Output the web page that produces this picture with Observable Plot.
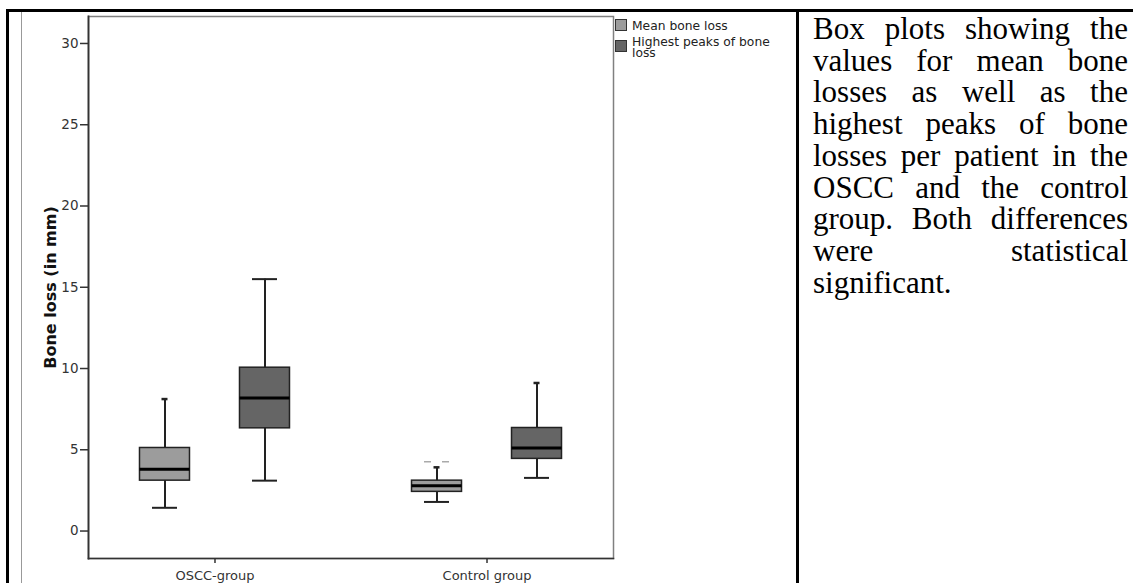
<!DOCTYPE html>
<html>
<head>
<meta charset="utf-8">
<script src="https://cdn.jsdelivr.net/npm/d3@7"></script>
<script src="https://cdn.jsdelivr.net/npm/@observablehq/plot@0.6"></script>
<style>
  html, body { margin: 0; padding: 0; background: #fff; }
  #page { position: relative; width: 1133px; height: 583px; overflow: hidden; background: #fff; }
  .ln { position: absolute; }
  #chart { position: absolute; left: 0; top: 0; }
  #legend { position: absolute; left: 615px; top: 19px; font-family: "DejaVu Sans", sans-serif; font-size: 12.3px; line-height: 11px; color: #222; }
  .lg-item { position: relative; height: 21px; }
  .lg-sw { position: absolute; left: 0; top: 0; width: 12px; height: 12px; border: 1px solid #333; box-sizing: border-box; }
  .lg-tx { position: absolute; left: 17px; top: 0.5px; width: 145px; }
  #caption { position: absolute; left: 813px; top: 13px; width: 315px; font-family: "Liberation Serif", "Times New Roman", serif; font-size: 31px; line-height: 31.7px; color: #000; }
  .cl { text-align: justify; text-align-last: justify; white-space: nowrap; }
  .cl.last { text-align: left; text-align-last: left; }
</style>
</head>
<body>
<div id="page">
  <div class="ln" style="left:6px;top:9px;width:1127px;height:3px;background:#000"></div>
  <div class="ln" style="left:6px;top:9px;width:3px;height:574px;background:#000"></div>
  <div class="ln" style="left:21px;top:12px;width:1px;height:571px;background:#999"></div>
  <div class="ln" style="left:796px;top:9px;width:3px;height:574px;background:#000"></div>
  <div id="chart"></div>
  <div id="legend"></div>
  <div id="caption"></div>
</div>
<script>
// ---- data ----
const groups = ["OSCC-group", "Control group"];
const series = ["Mean bone loss", "Highest peaks of bone loss"];
const seriesColors = ["#9c9c9c", "#656565"];

const boxGroup  = ["OSCC-group", "OSCC-group", "Control group", "Control group"];
const boxSeries = ["Mean bone loss", "Highest peaks of bone loss", "Mean bone loss", "Highest peaks of bone loss"];
const whiskerLow  = [1.43, 3.10, 1.79, 3.27];
const q1          = [3.10, 6.32, 2.41, 4.44];
const median      = [3.80, 8.19, 2.78, 5.11];
const q3          = [5.11, 10.05, 3.10, 6.34];
const whiskerHigh = [8.12, 15.50, 3.92, 9.11];

const outlierGroup  = ["Control group"];
const outlierSeries = ["Mean bone loss"];
const outlierValue  = [4.27];

const yTicks = [0, 5, 10, 15, 20, 25, 30];
const yLabel = "Bone loss (in mm)";

const captionLines = [
  "Box plots showing the",
  "values for mean bone",
  "losses as well as the",
  "highest peaks of bone",
  "losses per patient in the",
  "OSCC and the control",
  "group. Both differences",
  "were statistical",
  "significant."
];

// ---- tables ----
const rows = boxGroup.map((g, i) => ({
  group: g, series: boxSeries[i], low: whiskerLow[i], q1: q1[i],
  median: median[i], q3: q3[i], high: whiskerHigh[i]
}));
const outliers = outlierGroup.map((g, i) => ({group: g, series: outlierSeries[i], value: outlierValue[i]}));

// ---- layout ----
const W = 800, H = 583, mL = 88, mR = 187, mT = 16, mB = 25;
const padIn = 0.07, padOut = 0;
const step = (W - mL - mR) / (groups.length - padIn + 2 * padOut);
const bw = step * (1 - padIn);
const boxW = 50, capW = 25, smallCapW = 6, offset = 50;
const boxInset = (bw - boxW) / 2, capInset = (bw - capW) / 2, smallInset = (bw - smallCapW) / 2;
const dxOf = s => s === series[0] ? -offset : offset;
const wideTop = r => r.group === groups[0] && r.series === series[1];

const marks = [];
for (const s of series) {
  const d = rows.filter(r => r.series === s);
  const o = outliers.filter(r => r.series === s);
  const dx = dxOf(s);
  marks.push(
    Plot.ruleX(d, {x: "group", y1: "low", y2: "high", dx, stroke: "#222", strokeWidth: 2}),
    Plot.tickY(d, {x: "group", y: "low", dx, insetLeft: capInset, insetRight: capInset, stroke: "#222", strokeWidth: 2}),
    Plot.tickY(d.filter(wideTop), {x: "group", y: "high", dx, insetLeft: capInset, insetRight: capInset, stroke: "#222", strokeWidth: 2}),
    Plot.tickY(d.filter(r => !wideTop(r)), {x: "group", y: "high", dx, insetLeft: smallInset, insetRight: smallInset, stroke: "#222", strokeWidth: 2.5}),
    Plot.tickY(o, {x: "group", y: "value", dx, insetLeft: capInset, insetRight: capInset, stroke: "#aaa", strokeWidth: 1.5, strokeDasharray: "7,11"}),
    Plot.barY(d, {x: "group", y1: "q1", y2: "q3", fill: "series", stroke: "#222", strokeWidth: 1.5, dx, insetLeft: boxInset, insetRight: boxInset}),
    Plot.tickY(d, {x: "group", y: "median", dx, insetLeft: boxInset, insetRight: boxInset, stroke: "#000", strokeWidth: 3})
  );
}

const chart = Plot.plot({
  width: W, height: H,
  marginLeft: mL, marginRight: mR, marginTop: mT, marginBottom: mB,
  style: {fontFamily: "DejaVu Sans, sans-serif", fontSize: "13.5px", color: "#333", background: "transparent", overflow: "visible"},
  x: {type: "band", domain: groups, paddingInner: padIn, paddingOuter: padOut, round: false, axis: null},
  y: {domain: [-1.69, 31.66], axis: null},
  color: {domain: series, range: seriesColors},
  marks: [
    ...marks,
    Plot.frame({stroke: "#808080", strokeWidth: 1.5}),
    Plot.frame({anchor: "left", stroke: "#333", strokeWidth: 1.8}),
    Plot.frame({anchor: "bottom", stroke: "#333", strokeWidth: 1.5}),
    Plot.axisY({ticks: yTicks, tickSize: 8, tickPadding: 2, label: null, fontSize: 13.5, stroke: "#333", strokeWidth: 1.5}),
    Plot.axisX({tickSize: 5, tickPadding: 7, label: null, fontSize: 13, stroke: "#333", strokeWidth: 1.5}),
    Plot.text([yLabel], {text: d => d, frameAnchor: "left", textAnchor: "middle", dx: -38, rotate: -90, fontWeight: "bold", fontSize: 16, fill: "#111"})
  ]
});
document.getElementById("chart").appendChild(chart);

// ---- legend ----
const legend = document.getElementById("legend");
series.forEach((s, i) => {
  const item = document.createElement("div");
  item.className = "lg-item";
  const sw = document.createElement("div");
  sw.className = "lg-sw";
  sw.style.background = seriesColors[i];
  const tx = document.createElement("div");
  tx.className = "lg-tx";
  tx.textContent = s;
  item.appendChild(sw); item.appendChild(tx);
  legend.appendChild(item);
  const h = tx.getBoundingClientRect().height;
  tx.style.top = (7.5 - h / 2) + "px";
});

// ---- caption ----
const cap = document.getElementById("caption");
captionLines.forEach((t, i) => {
  const dv = document.createElement("div");
  dv.className = "cl" + (i === captionLines.length - 1 ? " last" : "");
  dv.textContent = t;
  cap.appendChild(dv);
});
</script>
</body>
</html>
